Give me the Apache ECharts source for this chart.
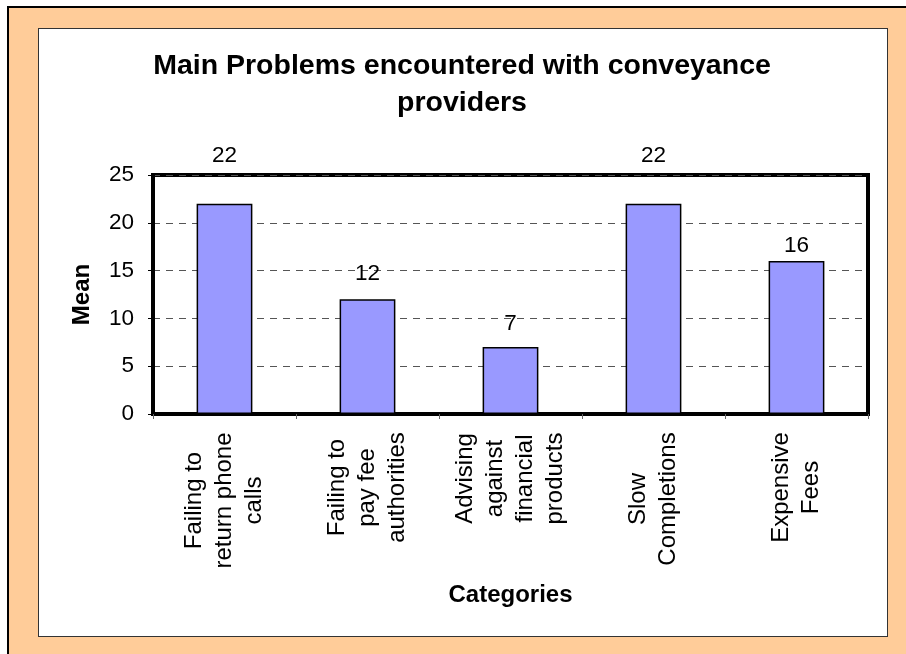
<!DOCTYPE html>
<html>
<head>
<meta charset="utf-8">
<script src="https://cdn.jsdelivr.net/npm/echarts@6/dist/echarts.min.js"></script>
<style>
  html, body { margin: 0; padding: 0; background: #ffffff; }
  #frame { position: absolute; left: 7px; top: 6px; width: 899px; height: 648px; box-sizing: border-box;
           background: #FFCC99; border-left: 2px solid #000; border-top: 2px solid #000; }
  #panel { position: absolute; left: 38px; top: 28px; width: 850px; height: 609px; box-sizing: border-box;
           background: #ffffff; border: 1px solid #333; }
  #chart { position: absolute; left: 0; top: 0; width: 906px; height: 654px; }
</style>
</head>
<body>
<div id="frame"></div>
<div id="panel"></div>
<div id="chart"></div>
<script>
const titleText = "Main Problems encountered with conveyance\nproviders";
const categories = [
  "Failing to\nreturn phone\ncalls",
  "Failing to\npay fee\nauthorities",
  "Advising\nagainst\nfinancial\nproducts",
  "Slow\nCompletions",
  "Expensive\nFees"
];
const meanValues = [22, 12, 7, 22, 16];
const yTicks = { min: 0, max: 25, interval: 5 };
const xAxisName = "Categories";
const yAxisName = "Mean";

const FONT = '"Liberation Sans", Arial, sans-serif';
const catFontSize = 24;

// measure widest line of each category label so lines can be centred in their block
const mctx = document.createElement('canvas').getContext('2d');
mctx.font = catFontSize + 'px ' + FONT;
const rich = {};
categories.forEach((c, i) => {
  const w = Math.max(...c.split('\n').map(l => mctx.measureText(l).width));
  rich['c' + i] = { width: Math.ceil(w), align: 'center', fontSize: catFontSize, lineHeight: 30, fontFamily: FONT, color: '#000' };
});

const labelGaps = [36, 14, 12, 36, 4];

const chart = echarts.init(document.getElementById('chart'), null, { renderer: 'canvas' });
chart.setOption({
  backgroundColor: 'transparent',
  animation: false,
  title: {
    text: titleText,
    left: 462,
    top: 48,
    padding: 0,
    textAlign: 'center',
    textStyle: { fontFamily: FONT, fontSize: 28.5, fontWeight: 'bold', color: '#000', lineHeight: 37 }
  },
  grid: {
    left: 153, right: 38, top: 175, bottom: 240,
    show: true, borderColor: '#000', borderWidth: 4, backgroundColor: 'transparent'
  },
  xAxis: {
    type: 'category',
    data: categories,
    name: xAxisName,
    nameLocation: 'middle',
    nameGap: 169,
    nameTextStyle: { fontFamily: FONT, fontSize: 24, fontWeight: 'bold', color: '#000' },
    axisLine: { show: true, lineStyle: { color: '#000', width: 4 } },
    axisTick: { show: true, interval: 0, length: 5, lineStyle: { color: '#666', width: 1 } },
    axisLabel: {
      interval: 0,
      rotate: 90,
      margin: 18,
      formatter: (value, index) => value.split('\n').map(l => '{c' + index + '|' + l + '}').join('\n'),
      rich: rich,
      fontFamily: FONT,
      fontSize: catFontSize,
      color: '#000'
    },
    splitLine: { show: false }
  },
  yAxis: {
    type: 'value',
    min: yTicks.min, max: yTicks.max, interval: yTicks.interval,
    name: yAxisName,
    nameLocation: 'middle',
    nameGap: 59,
    nameTextStyle: { fontFamily: FONT, fontSize: 24, fontWeight: 'bold', color: '#000' },
    axisLine: { show: true, lineStyle: { color: '#000', width: 4 } },
    axisTick: { show: true, length: 5, lineStyle: { color: '#000', width: 1 } },
    axisLabel: { margin: 19, fontFamily: FONT, fontSize: 22.5, color: '#000' },
    splitLine: { show: true, lineStyle: { color: '#555', width: 1, type: [7, 6] } }
  },
  series: [{
    type: 'bar',
    barWidth: '39%',
    data: meanValues.map((v, i) => ({ value: v, label: { distance: labelGaps[i] } })),
    itemStyle: { color: '#9999FF', borderColor: '#000', borderWidth: 1.5 },
    label: { show: true, position: 'top', fontFamily: FONT, fontSize: 22.5, color: '#000' }
  }]
});
</script>
</body>
</html>
